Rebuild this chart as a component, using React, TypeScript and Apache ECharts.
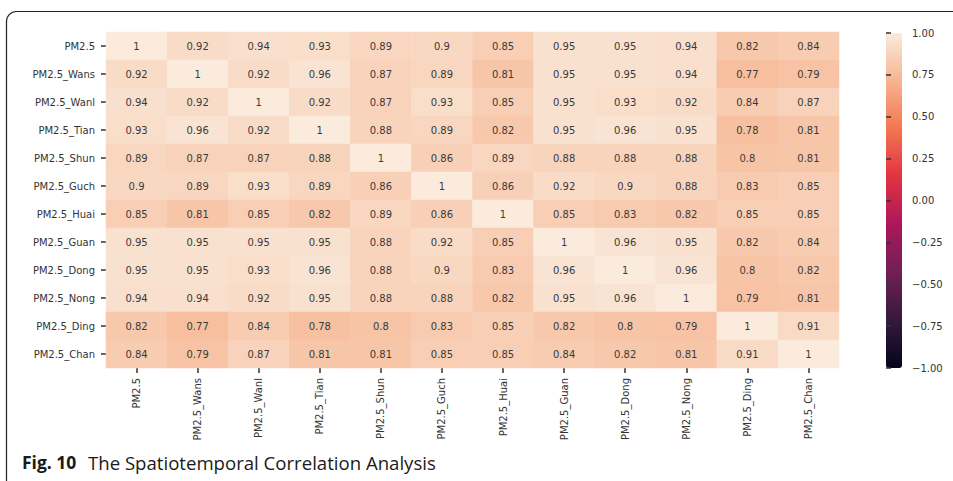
import React, { useEffect, useRef } from "react";
import * as echarts from "echarts";

const labels = [
  "PM2.5",
  "PM2.5_Wans",
  "PM2.5_Wanl",
  "PM2.5_Tian",
  "PM2.5_Shun",
  "PM2.5_Guch",
  "PM2.5_Huai",
  "PM2.5_Guan",
  "PM2.5_Dong",
  "PM2.5_Nong",
  "PM2.5_Ding",
  "PM2.5_Chan",
];

const rowPM25 = [1, 0.92, 0.94, 0.93, 0.89, 0.9, 0.85, 0.95, 0.95, 0.94, 0.82, 0.84];
const rowWans = [0.92, 1, 0.92, 0.96, 0.87, 0.89, 0.81, 0.95, 0.95, 0.94, 0.77, 0.79];
const rowWanl = [0.94, 0.92, 1, 0.92, 0.87, 0.93, 0.85, 0.95, 0.93, 0.92, 0.84, 0.87];
const rowTian = [0.93, 0.96, 0.92, 1, 0.88, 0.89, 0.82, 0.95, 0.96, 0.95, 0.78, 0.81];
const rowShun = [0.89, 0.87, 0.87, 0.88, 1, 0.86, 0.89, 0.88, 0.88, 0.88, 0.8, 0.81];
const rowGuch = [0.9, 0.89, 0.93, 0.89, 0.86, 1, 0.86, 0.92, 0.9, 0.88, 0.83, 0.85];
const rowHuai = [0.85, 0.81, 0.85, 0.82, 0.89, 0.86, 1, 0.85, 0.83, 0.82, 0.85, 0.85];
const rowGuan = [0.95, 0.95, 0.95, 0.95, 0.88, 0.92, 0.85, 1, 0.96, 0.95, 0.82, 0.84];
const rowDong = [0.95, 0.95, 0.93, 0.96, 0.88, 0.9, 0.83, 0.96, 1, 0.96, 0.8, 0.82];
const rowNong = [0.94, 0.94, 0.92, 0.95, 0.88, 0.88, 0.82, 0.95, 0.96, 1, 0.79, 0.81];
const rowDing = [0.82, 0.77, 0.84, 0.78, 0.8, 0.83, 0.85, 0.82, 0.8, 0.79, 1, 0.91];
const rowChan = [0.84, 0.79, 0.87, 0.81, 0.81, 0.85, 0.85, 0.84, 0.82, 0.81, 0.91, 1];

const rows = [
  rowPM25, rowWans, rowWanl, rowTian, rowShun, rowGuch,
  rowHuai, rowGuan, rowDong, rowNong, rowDing, rowChan,
];

// colour bar tick labels, bottom (-1) to top (1)
const colorbarTicks = ["\u22121.00", "\u22120.75", "\u22120.50", "\u22120.25", "0.00", "0.25", "0.50", "0.75", "1.00"];
const colorMin = -1;
const colorMax = 1;

const rocket = ["#03051a", "#35193e", "#701f57", "#ad1759", "#e13342", "#f37651", "#f6b48f", "#faebdd"];

const captionBold = "Fig. 10";
const captionText = "The Spatiotemporal Correlation Analysis";

export default function App() {
  const ref = useRef<HTMLDivElement>(null);
  useEffect(() => {
    document.body.style.margin = "0";
    const chart = echarts.init(ref.current!, null, { renderer: "svg" });
    const data: any[] = [];
    rows.forEach((r, yi) => r.forEach((v, xi) => data.push([xi, yi, v])));
    const font = "DejaVu Sans";
    const tickStyle = { color: "#333333", width: 1.5, opacity: 1 };
    const hiddenLine = { show: true, lineStyle: { color: "rgba(0,0,0,0)", width: 0 } };
    chart.setOption({
      animation: false,
      backgroundColor: "#ffffff",
      grid: [
        { left: 106, top: 32, width: 733, height: 336 },
        { left: 886, top: 33, width: 16, height: 335 },
      ],
      xAxis: [
        {
          type: "category",
          data: labels,
          gridIndex: 0,
          position: "bottom",
          axisLine: hiddenLine,
          axisTick: { show: true, alignWithLabel: true, length: 5, inside: false, lineStyle: tickStyle },
          axisLabel: { rotate: 90, fontFamily: font, fontSize: 10, color: "#333", margin: 10 },
          splitLine: { show: false },
        },
        { type: "value", gridIndex: 1, min: 0, max: 1, show: false },
      ],
      yAxis: [
        {
          type: "category",
          data: labels,
          gridIndex: 0,
          inverse: true,
          axisLine: hiddenLine,
          axisTick: { show: true, alignWithLabel: true, length: 5, inside: false, lineStyle: tickStyle },
          axisLabel: { fontFamily: font, fontSize: 10, color: "#333", margin: 11 },
          splitLine: { show: false },
        },
        {
          type: "category",
          data: colorbarTicks,
          boundaryGap: false,
          gridIndex: 1,
          position: "right",
          z: 10,
          axisLine: hiddenLine,
          axisTick: { show: true, length: 5, inside: false, interval: 0, lineStyle: tickStyle },
          axisLabel: { fontFamily: font, fontSize: 10, color: "#333", margin: 10, interval: 0 },
          splitLine: { show: false },
        },
      ],
      visualMap: {
        type: "continuous",
        min: colorMin,
        max: colorMax,
        seriesIndex: 0,
        left: 886,
        top: 33,
        itemWidth: 16,
        itemHeight: 335,
        padding: 0,
        calculable: false,
        hoverLink: false,
        orient: "vertical",
        inRange: { color: rocket },
        z: 1,
      },
      graphic: [
        {
          type: "rect",
          shape: { x: 6.5, y: 11.5, width: 1000, height: 520, r: 10 },
          style: { fill: "none", stroke: "#222", lineWidth: 1.2 },
          silent: true,
          z: -1,
        },
        {
          type: "text",
          left: 22,
          top: 453,
          style: {
            text: captionBold,
            font: "bold 17.5px 'Open Sans'",
            fill: "#1a1a1a",
          },
        },
        {
          type: "text",
          left: 88,
          top: 453,
          style: {
            text: captionText,
            font: "18.6px 'Open Sans'",
            fill: "#1a1a1a",
          },
        },
      ],
      series: [
        {
          type: "heatmap",
          xAxisIndex: 0,
          yAxisIndex: 0,
          data,
          label: {
            show: true,
            fontFamily: font,
            fontSize: 10,
            color: "#3a3a3a",
            formatter: (p: any) => String(p.value[2]),
          },
          emphasis: { disabled: true },
        },
        { type: "scatter", xAxisIndex: 1, yAxisIndex: 1, data: [] },
      ],
    });
    return () => chart.dispose();
  }, []);
  return <div ref={ref} style={{ width: 953, height: 481 }} />;
}
